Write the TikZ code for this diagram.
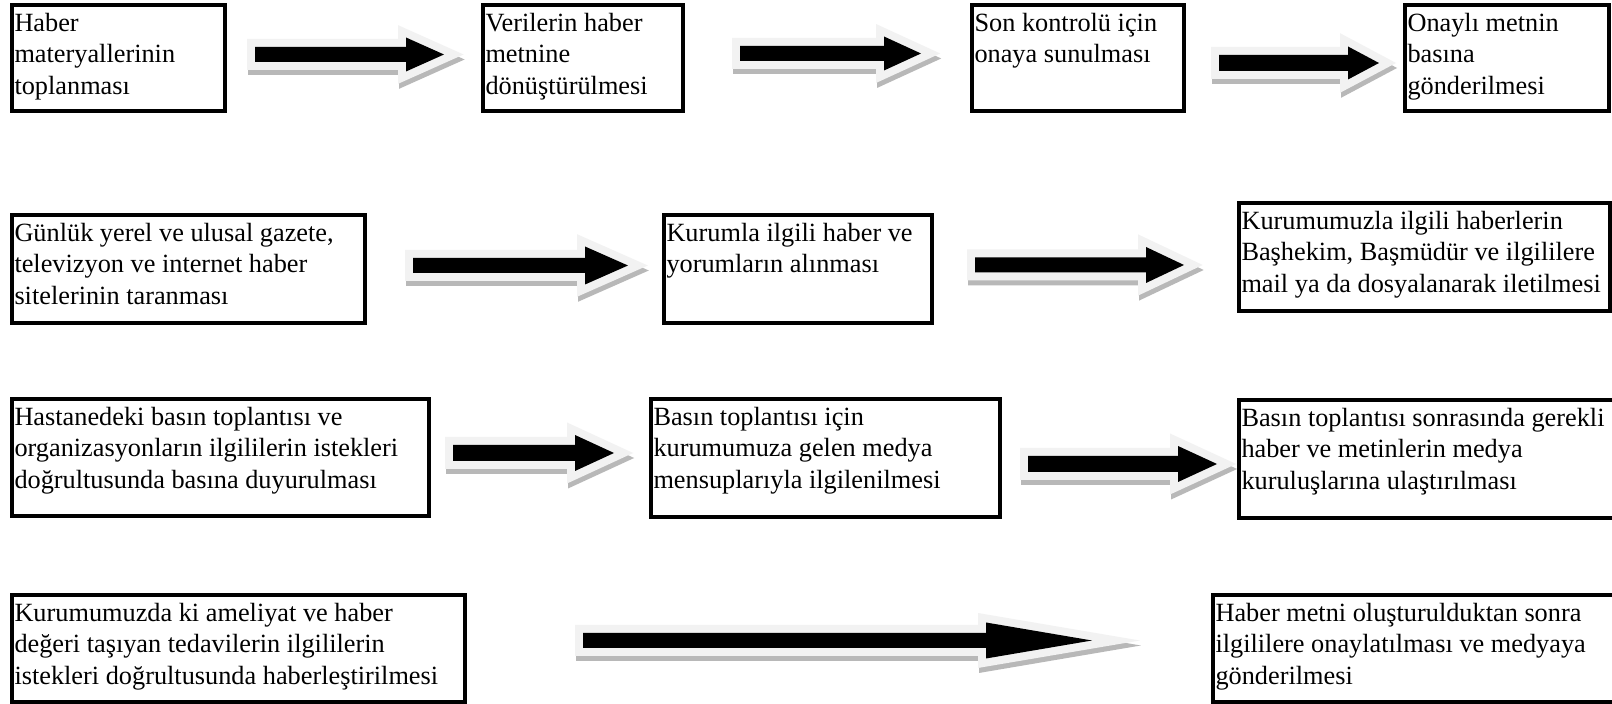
\documentclass[tikz,border=0pt]{standalone}
\usepackage{fontspec}
\setmainfont{Liberation Serif}
\definecolor{arrline}{HTML}{F2F2F2}
\definecolor{arrshadow}{HTML}{B8B8B8}
\tikzset{
  box/.style={draw=black, line width=1.75pt, fill=white, inner sep=0pt, outer sep=0pt, anchor=north west},
  txt/.style={anchor=north west, inner sep=0pt, outer sep=0pt, align=left, font=\fontsize{13.15}{15.75}\selectfont},
}
% #1 name, #2 left, #3 top, #4 right, #5 bottom, #6 text
\newcommand\flowbox[6]{%
  \node[box, minimum width={(#4-#2)*0.5pt}, minimum height={(#5-#3)*0.5pt}] (#1) at (#2,#3) {};
  \node[txt] (#1t) at ([shift={(2.5,4)}]#1.north west) {\strut #6};
}
% #1 x0, #2 tip x, #3 centre y, #4 shaft half height, #5 head half height, #6 head length
\newcommand\blockarr[6]{%
  \pgfmathsetmacro\xb{#2-#6}%
  \foreach \dx/\dy/\col in {1/5/arrshadow,0/0/arrline}{%
    \filldraw[draw=\col, fill=\col, line width=8pt, line join=miter, shift={(\dx,\dy)}]
      (#1,{#3-#4}) -- (\xb,{#3-#4}) -- (\xb,{#3-#5}) -- (#2,#3) -- (\xb,{#3+#5}) -- (\xb,{#3+#4}) -- (#1,{#3+#4}) -- cycle;
  }
  \fill[black] (#1,{#3-#4}) -- (\xb,{#3-#4}) -- (\xb,{#3-#5}) -- (#2,#3) -- (\xb,{#3+#5}) -- (\xb,{#3+#4}) -- (#1,{#3+#4}) -- cycle;
}
\begin{document}
\begin{tikzpicture}[x=0.5pt,y=-0.5pt]
\useasboundingbox[fill=white] (0,0) rectangle (1612,704);
% row 1
\flowbox{b1}{12}{5}{225}{111}{Haber\\materyallerinin\\toplanması}
\flowbox{b2}{483}{5}{683}{111}{Verilerin haber\\metnine\\dönüştürülmesi}
\flowbox{b3}{972}{5}{1184}{111}{Son kontrolü için\\onaya sunulması}
\flowbox{b4}{1405}{5}{1609}{111}{Onaylı metnin\\basına\\gönderilmesi}
\blockarr{255}{444}{54.5}{7.5}{17}{38}
\blockarr{740}{921}{53.5}{7.5}{17}{37}
\blockarr{1219}{1379}{63}{8}{16.5}{31}
% row 2
\flowbox{b5}{12}{215}{365}{323}{Günlük yerel ve ulusal gazete,\\televizyon ve internet haber\\sitelerinin taranması}
\flowbox{b6}{664}{215}{932}{323}{Kurumla ilgili haber ve\\yorumların alınması}
\flowbox{b7}{1239}{203}{1610}{311}{Kurumumuzla ilgili haberlerin\\Başhekim, Başmüdür ve ilgililere\\mail ya da dosyalanarak iletilmesi}
\blockarr{413}{628}{265.5}{7.5}{19}{43}
\blockarr{975}{1184}{265}{7.5}{18}{38}
% row 3
\flowbox{b8}{12}{399}{429}{516}{Hastanedeki basın toplantısı ve\\organizasyonların ilgililerin istekleri\\doğrultusunda basına duyurulması}
\flowbox{b9}{651}{399}{1000}{517}{Basın toplantısı için\\kurumumuza gelen medya\\mensuplarıyla ilgilenilmesi}
\flowbox{b10}{1239}{400}{1660}{518}{Basın toplantısı sonrasında gerekli\\haber ve metinlerin medya\\kuruluşlarına ulaştırılması}
\blockarr{453}{614}{453}{8}{18}{39}
\blockarr{1028}{1217}{464}{8}{18}{39}
% row 4
\flowbox{b11}{12}{595}{465}{702}{Kurumumuzda ki ameliyat ve haber\\değeri taşıyan tedavilerin ilgililerin\\istekleri doğrultusunda haberleştirilmesi}
\flowbox{b12}{1213}{595}{1660}{702}{Haber metni oluşturulduktan sonra\\ilgililere onaylatılması ve medyaya\\gönderilmesi}
\blockarr{583}{1092}{640.5}{7.5}{18}{106}
\end{tikzpicture}
\end{document}
